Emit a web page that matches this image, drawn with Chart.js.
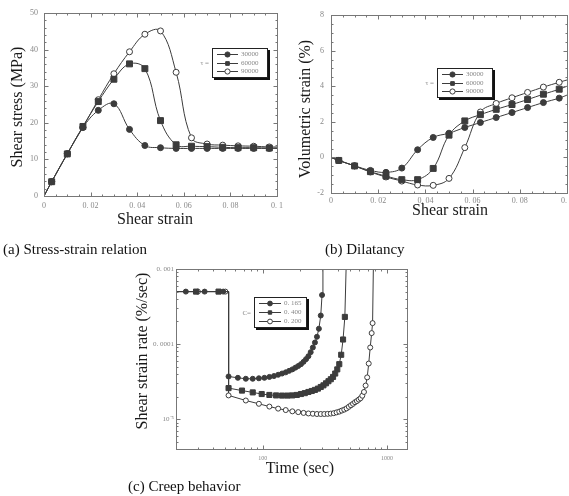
<!DOCTYPE html>
<html>
<head>
<meta charset="utf-8">
<script src="https://cdn.jsdelivr.net/npm/chart.js"></script>
<style>
body{margin:0;background:#fff;}
#fig{position:relative;width:569px;height:496px;overflow:hidden;font-family:'Liberation Serif',serif;}
.box{position:absolute;}
.cap{position:absolute;font-size:15px;color:#111;white-space:nowrap;line-height:1;}
</style>
</head>
<body>
<div id="fig">
 <div class="box" style="left:0;top:0;width:290px;height:230px"><canvas id="ca" width="290" height="230"></canvas></div>
 <div class="box" style="left:290px;top:0;width:279px;height:220px"><canvas id="cb" width="279" height="220"></canvas></div>
 <div class="box" style="left:128px;top:250px;width:302px;height:230px"><canvas id="cc" width="302" height="230"></canvas></div>
 <div class="cap" style="left:3px;top:242px">(a) Stress-strain relation</div>
 <div class="cap" style="left:325px;top:242px">(b) Dilatancy</div>
 <div class="cap" style="left:128px;top:479px">(c) Creep behavior</div>
</div>
<script>
// (a) stress-strain and (b) dilatancy share the strain points
var strain=[0,0.0033,0.0100,0.0167,0.0233,0.0300,0.0367,0.0433,0.0500,0.0567,0.0633,0.0700,0.0767,0.0833,0.0900,0.0967,0.1];
var tauLabels=['30000','60000','90000'];
var stress30000=[0,3.9,11.5,18.7,23.4,25.2,18.2,13.8,13.2,13.0,13.0,13.0,13.0,13.0,13.0,13.0,13.0];
var stress60000=[0,3.9,11.5,19.0,25.8,31.9,36.1,34.8,20.6,14.0,13.6,13.5,13.3,13.2,13.2,13.1,13.1];
var stress90000=[0,3.9,11.6,18.8,26.3,33.4,39.4,44.2,45.1,33.8,15.9,14.2,13.9,13.7,13.6,13.4,13.4];
var vol30000=[0,-0.17,-0.47,-0.73,-0.84,-0.60,0.43,1.12,1.36,1.68,1.96,2.24,2.52,2.80,3.08,3.33,3.50];
var vol60000=[0,-0.17,-0.48,-0.80,-1.05,-1.25,-1.25,-0.62,1.25,2.05,2.40,2.70,2.97,3.25,3.55,3.83,4.00];
var vol90000=[0,-0.17,-0.48,-0.82,-1.10,-1.33,-1.55,-1.57,-1.18,0.55,2.55,3.03,3.35,3.65,3.95,4.22,4.35];

// (c) creep: time (sec) and shear strain rate (%/sec)
var cLabels=['0. 165','0. 400','0. 200'];
var time165=[20,24,34,48,53,53,63,73,83,93,103,113,123,133,143,153,163,173,183,193,203,213,223,233,243,253,263,273,283,293,300,305];
var rate165=[5e-4,5e-4,5e-4,5e-4,5e-4,3.7e-5,3.55e-5,3.45e-5,3.45e-5,3.5e-5,3.55e-5,3.65e-5,3.75e-5,3.9e-5,4.05e-5,4.2e-5,4.4e-5,4.6e-5,4.85e-5,5.1e-5,5.4e-5,5.8e-5,6.3e-5,6.9e-5,7.8e-5,9.0e-5,1.05e-4,1.25e-4,1.6e-4,2.4e-4,4.5e-4,1.2e-3];
var time400=[20,29,44,53,53,68,83,98,113,128,143,158,173,188,203,218,233,248,263,278,293,308,323,338,353,368,383,398,413,428,443,458,470];
var rate400=[5e-4,5e-4,5e-4,5e-4,2.59e-5,2.4e-5,2.27e-5,2.16e-5,2.1e-5,2.07e-5,2.06e-5,2.06e-5,2.07e-5,2.1e-5,2.16e-5,2.22e-5,2.3e-5,2.37e-5,2.45e-5,2.55e-5,2.68e-5,2.82e-5,3.0e-5,3.2e-5,3.4e-5,3.65e-5,4.05e-5,4.6e-5,5.4e-5,7.2e-5,1.15e-4,2.3e-4,1.2e-3];
var time200=[20,30,50,53,53,73,93,113,133,153,173,193,213,233,253,273,293,313,333,353,373,393,413,433,453,473,493,513,533,553,573,593,613,633,653,673,693,713,733,753,766,778];
var rate200=[5e-4,5e-4,5e-4,5e-4,2.07e-5,1.77e-5,1.6e-5,1.47e-5,1.38e-5,1.32e-5,1.27e-5,1.24e-5,1.21e-5,1.19e-5,1.18e-5,1.17e-5,1.17e-5,1.17e-5,1.175e-5,1.185e-5,1.2e-5,1.23e-5,1.26e-5,1.3e-5,1.34e-5,1.39e-5,1.46e-5,1.53e-5,1.6e-5,1.68e-5,1.74e-5,1.82e-5,1.9e-5,2.05e-5,2.3e-5,2.8e-5,3.6e-5,5.5e-5,9e-5,1.4e-4,1.9e-4,1.2e-3];
var rateTickExp=[-3,-4,-5];
var rateTickText=['0. 001','0. 0001','10\u207B\u2075'];
var timeTickExp=[2,3];
var timeTickText=['100','1000'];

var serif="'Liberation Serif','Times New Roman',serif";
var ink='#3c3c3c';

function pts(xs,ys){ return xs.map(function(x,i){ return {x:x,y:ys[i]}; }); }

function drawMark(ctx,style,r,x,y,fill){
  ctx.beginPath();
  if(style==='rect'){ var s=r*Math.SQRT1_2; ctx.rect(x-s,y-s,2*s,2*s); }
  else ctx.arc(x,y,r,0,Math.PI*2);
  ctx.fillStyle=fill; ctx.fill();
  ctx.strokeStyle=ink; ctx.lineWidth=1; ctx.stroke();
}

function tickList(scale,div){
  var out=[];
  if(scale.type==='logarithmic'){
    var lo=Math.floor(Math.log10(scale.min)), hi=Math.ceil(Math.log10(scale.max));
    for(var d=lo;d<=hi;d++) for(var m=1;m<=9;m++){
      var v=m*Math.pow(10,d);
      if(v>=scale.min*0.999 && v<=scale.max*1.001) out.push({v:v,major:m===1});
    }
  } else {
    var mj=scale.ticks.map(function(t){return t.value;});
    var step=mj[1]-mj[0];
    mj.forEach(function(v,i){
      out.push({v:v,major:true});
      if(i<mj.length-1) for(var k=1;k<div;k++) out.push({v:v+step*k/div,major:false});
    });
  }
  return out;
}

// box with inward ticks on all four sides, plus the axis titles
var framePlugin={
  id:'frame',
  afterDatasetsDraw:function(chart,args,o){
    var ctx=chart.ctx,a=chart.chartArea,L=Math.round(a.left)+0.5,R=Math.round(a.right)+0.5,T=Math.round(a.top)+0.5,B=Math.round(a.bottom)+0.5;
    ctx.save();
    ctx.strokeStyle='#777'; ctx.lineWidth=1;
    ctx.strokeRect(L,T,R-L,B-T);
    ctx.beginPath();
    tickList(chart.scales.x,o.xDiv).forEach(function(t){
      var p=Math.round(chart.scales.x.getPixelForValue(t.v))+0.5, n=t.major?4:2;
      ctx.moveTo(p,B); ctx.lineTo(p,B-n); ctx.moveTo(p,T); ctx.lineTo(p,T+n);
    });
    tickList(chart.scales.y,o.yDiv).forEach(function(t){
      var p=Math.round(chart.scales.y.getPixelForValue(t.v))+0.5, n=t.major?4:2;
      ctx.moveTo(L,p); ctx.lineTo(L+n,p); ctx.moveTo(R,p); ctx.lineTo(R-n,p);
    });
    ctx.stroke();
    ctx.font='16px '+serif; ctx.fillStyle='#1a1a1a'; ctx.textAlign='center'; ctx.textBaseline='middle';
    ctx.fillText(o.xTitle.text,o.xTitle.x,o.xTitle.y);
    ctx.translate(o.yTitle.x,o.yTitle.y); ctx.rotate(-Math.PI/2);
    ctx.fillText(o.yTitle.text,0,0);
    ctx.restore();
  }
};

// boxed legend with a drop shadow and a prefix such as "τ ="
var boxLegend={
  id:'boxLegend',
  afterDraw:function(chart,args,o){
    var ctx=chart.ctx, sets=chart.data.datasets;
    ctx.save();
    ctx.fillStyle='#111'; ctx.fillRect(o.x+2,o.y+2,o.w+1,o.h+1);
    ctx.fillStyle='#fff'; ctx.fillRect(o.x,o.y,o.w,o.h);
    ctx.strokeStyle='#222'; ctx.lineWidth=1; ctx.strokeRect(o.x+0.5,o.y+0.5,o.w,o.h);
    ctx.font='7px '+serif; ctx.textBaseline='middle';
    sets.forEach(function(ds,i){
      var cy=Math.round(o.y+o.first+i*o.row)+0.5;
      ctx.strokeStyle=ink; ctx.beginPath(); ctx.moveTo(o.x+5,cy); ctx.lineTo(o.x+o.line,cy); ctx.stroke();
      drawMark(ctx,ds.pointStyle,o.r,(o.x+5+o.x+o.line)/2,cy,ds.backgroundColor);
      ctx.fillStyle='#888'; ctx.textAlign='left'; ctx.fillText(ds.label,o.x+o.line+3,cy);
    });
    ctx.fillStyle='#888'; ctx.textAlign='right';
    ctx.fillText(o.prefix,o.x-3,o.y+o.h/2+1);
    ctx.restore();
  }
};

function series(label,xs,ys,style,open,r,tension,hide){
  return {
    label:label, data:pts(xs,ys),
    borderColor:ink, borderWidth:1,
    backgroundColor:open?'#fff':ink,
    pointBackgroundColor:open?'#fff':ink,
    pointBorderColor:ink, pointBorderWidth:1,
    pointStyle:style,
    pointRadius:function(c){ return hide(c)?0:r; },
    tension:tension, fill:false
  };
}

function hideEnds(c){ var x=c.raw.x; return x===0||x>=0.1; }
function hideCreep(c){
  var d=c.dataset.data, i=c.dataIndex;
  return i===0 || (d[i+1] && d[i+1].x===d[i].x) || c.raw.y>=1e-3;
}

function strainLabel(v){ return v===0?'0':(+v.toFixed(2)).toString().replace('.','. '); }
function decadeLabel(exps,texts){
  return function(v){
    var l=Math.log10(v), e=Math.round(l);
    if(Math.abs(l-e)>1e-6) return '';
    var i=exps.indexOf(e); return i>=0?texts[i]:'';
  };
}

function options(o){
  return {
    responsive:false, animation:false, events:[],
    layout:{padding:{left:0,right:o.padR,top:o.padT,bottom:0}},
    plugins:{legend:{display:false},tooltip:{enabled:false},boxLegend:o.legend,
      frame:{xDiv:o.xDiv,yDiv:o.yDiv,xTitle:o.xTitle,yTitle:o.yTitle}},
    scales:{
      x:{
        type:o.xType||'linear', min:o.xMin, max:o.xMax,
        grid:{display:false,drawTicks:false}, border:{display:false},
        ticks:Object.assign({font:{family:serif,size:8},color:'#888',padding:o.xTickPad,maxRotation:0,autoSkip:false},o.xTicks),
        afterFit:function(s){ s.height=o.xH; s.paddingLeft=0; s.paddingRight=0; }
      },
      y:{
        type:o.yType||'linear', min:o.yMin, max:o.yMax,
        grid:{display:false,drawTicks:false}, border:{display:false},
        ticks:Object.assign({font:{family:serif,size:8},color:'#888',padding:o.yTickPad,autoSkip:false},o.yTicks),
        afterFit:function(s){ s.width=o.yW; s.paddingTop=0; s.paddingBottom=0; }
      }
    }
  };
}

new Chart(document.getElementById('ca'),{
  type:'line',
  data:{datasets:[
    series(tauLabels[0],strain,stress30000,'circle',false,3,0.4,hideEnds),
    series(tauLabels[1],strain,stress60000,'rect',false,4.2,0.4,hideEnds),
    series(tauLabels[2],strain,stress90000,'circle',true,3,0.4,hideEnds)
  ]},
  options:options({
    padR:13,padT:13,xH:34,yW:44,xMin:0,xMax:0.1,yMin:0,yMax:50,xDiv:4,yDiv:5,
    xTicks:{stepSize:0.02,callback:strainLabel},yTicks:{stepSize:10},
    xTickPad:5,yTickPad:6,
    xTitle:{text:'Shear strain',x:155,y:220},yTitle:{text:'Shear stress (MPa)',x:18,y:107},
    legend:{x:212,y:48,w:55,h:29,first:6,row:8.5,line:26,r:2.6,prefix:'\u03C4 ='}
  }),
  plugins:[framePlugin,boxLegend]
});

new Chart(document.getElementById('cb'),{
  type:'line',
  data:{datasets:[
    series(tauLabels[0],strain,vol30000,'circle',false,3,0.4,hideEnds),
    series(tauLabels[1],strain,vol60000,'rect',false,4.2,0.4,hideEnds),
    series(tauLabels[2],strain,vol90000,'circle',true,3,0.4,hideEnds)
  ]},
  options:options({
    padR:2,padT:15,xH:27,yW:41,xMin:0,xMax:0.1,yMin:-2,yMax:8,xDiv:4,yDiv:4,
    xTicks:{stepSize:0.02,callback:strainLabel},yTicks:{stepSize:2},
    xTickPad:3,yTickPad:7,
    xTitle:{text:'Shear strain',x:160,y:211},yTitle:{text:'Volumetric strain (%)',x:16,y:109},
    legend:{x:147,y:68,w:55,h:29,first:6,row:8.5,line:26,r:2.6,prefix:'\u03C4 ='}
  }),
  plugins:[framePlugin,boxLegend]
});

new Chart(document.getElementById('cc'),{
  type:'line',
  data:{datasets:[
    series(cLabels[0],time165,rate165,'circle',false,2.5,0,hideCreep),
    series(cLabels[1],time400,rate400,'rect',false,3.6,0,hideCreep),
    series(cLabels[2],time200,rate200,'circle',true,2.5,0,hideCreep)
  ]},
  options:options({
    padR:23,padT:19,xH:31,yW:48,xType:'logarithmic',yType:'logarithmic',
    xMin:20,xMax:1450,yMin:4e-6,yMax:1e-3,
    xTicks:{font:{family:serif,size:6},callback:decadeLabel(timeTickExp,timeTickText)},
    yTicks:{font:{family:serif,size:7},callback:decadeLabel(rateTickExp,rateTickText)},
    xTickPad:6,yTickPad:2,
    xTitle:{text:'Time (sec)',x:172,y:219},yTitle:{text:'Shear strain rate (%/sec)',x:15,y:101},
    legend:{x:126,y:47,w:52,h:30,first:6,row:9,line:27,r:2.4,prefix:'C='}
  }),
  plugins:[framePlugin,boxLegend]
});
</script>
</body>
</html>
